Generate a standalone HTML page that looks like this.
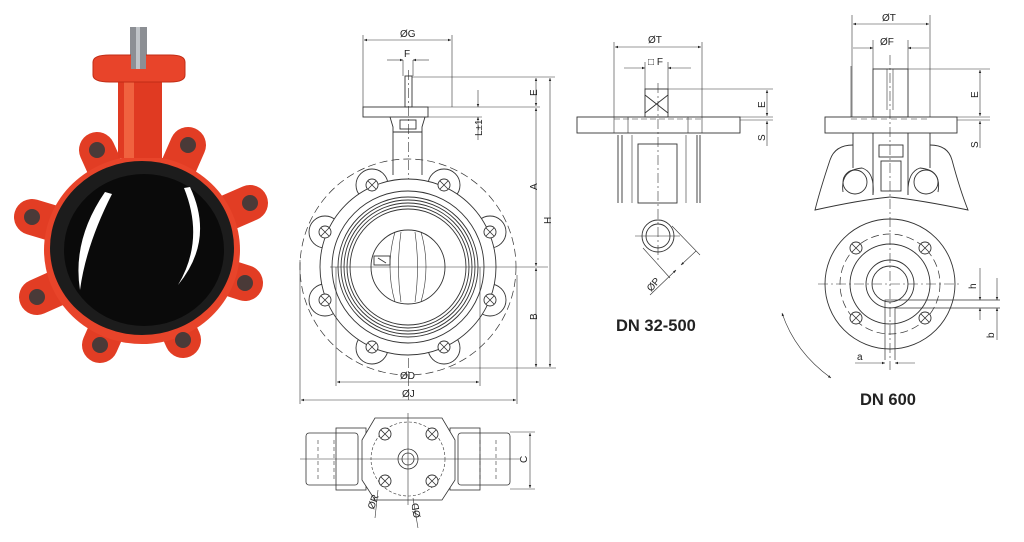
<!DOCTYPE html>
<html><head><meta charset="utf-8"><style>
html,body{margin:0;padding:0;background:#fff;}
svg{display:block;}
text{font-family:"Liberation Sans",sans-serif;fill:#222;}
</style></head><body>
<svg width="1024" height="542" viewBox="0 0 1024 542" xmlns="http://www.w3.org/2000/svg">
<defs>
<marker id="ar" viewBox="0 0 10 10" refX="10" refY="5" markerWidth="7" markerHeight="5" orient="auto-start-reverse"><path d="M0,1 L10,5 L0,9 z" fill="#222"/></marker>
<g id="bolt"><circle r="6" fill="#fff" stroke="#333" stroke-width="0.9"/><path d="M-4,-4 L4,4 M-4,4 L4,-4" stroke="#333" stroke-width="0.8"/></g>
</defs>

<!-- ========== PHOTO ========== -->
<g>
<rect x="130" y="27" width="17" height="34" fill="#8c8f94"/>
<rect x="136" y="27" width="4" height="34" fill="#b8bcc0"/>
<g stroke="#e23d24" stroke-width="36" stroke-linecap="round">
<line x1="142" y1="250" x2="97" y2="150"/><line x1="142" y1="250" x2="188" y2="145"/>
<line x1="142" y1="250" x2="32" y2="217"/><line x1="142" y1="250" x2="250" y2="203"/>
<line x1="142" y1="250" x2="37" y2="297"/><line x1="142" y1="250" x2="245" y2="283"/>
<line x1="142" y1="250" x2="100" y2="345"/><line x1="142" y1="250" x2="183" y2="340"/>
</g>
<ellipse cx="142" cy="250" rx="98" ry="94" fill="#e8442a"/>
<rect x="118" y="78" width="44" height="80" fill="#e03a22"/>
<rect x="124" y="78" width="10" height="80" fill="#f0623f"/>
<path d="M93,62 Q93,55 110,55 L170,55 Q185,55 185,62 L185,75 Q185,82 170,82 L110,82 Q93,82 93,75 Z" fill="#e8442a" stroke="#c12c15"/>
<rect x="131" y="27" width="15" height="42" fill="#8c8f94"/>
<rect x="136" y="27" width="4" height="42" fill="#c0c4c8"/>
<g fill="#4a3a38">
<circle cx="97" cy="150" r="8"/><circle cx="188" cy="145" r="8"/>
<circle cx="32" cy="217" r="8"/><circle cx="250" cy="203" r="8"/>
<circle cx="37" cy="297" r="8"/><circle cx="245" cy="283" r="8"/>
<circle cx="100" cy="345" r="8"/><circle cx="183" cy="340" r="8"/>
</g>
<ellipse cx="142" cy="248" rx="92" ry="87" fill="#1c1c1c"/>
<ellipse cx="144" cy="250" rx="80" ry="76" fill="#0a0a0a"/>
<path d="M105,192 Q72,240 80,290 Q86,245 112,194 Z" fill="#fff"/>
<path d="M190,187 Q215,240 178,285 Q205,240 184,188 Z" fill="#fff"/>
</g>

<!-- ========== MAIN FRONT VIEW ========== -->
<g fill="none" stroke="#333" stroke-width="0.9">
<rect x="363" y="107" width="65" height="10"/>
<rect x="405" y="76" width="7" height="31"/>
<line x1="408.5" y1="70" x2="408.5" y2="400" stroke-dasharray="10,3,2,3" stroke-width="0.6"/>
<path d="M390,117 L393,127 L393,175 M425,117 L422,127 L422,175"/>
<path d="M393,132 L422,132"/>
<rect x="400" y="120" width="16" height="9"/>
<circle cx="408" cy="267" r="108" stroke-dasharray="8,4" stroke-width="0.7"/>
<g stroke-width="0.9">
<circle cx="372" cy="185" r="16"/><circle cx="444" cy="185" r="16"/>
<circle cx="325" cy="232" r="16"/><circle cx="490" cy="232" r="16"/>
<circle cx="325" cy="300" r="16"/><circle cx="490" cy="300" r="16"/>
<circle cx="372" cy="348" r="16"/><circle cx="444" cy="348" r="16"/>
</g>
<circle cx="408" cy="267" r="88" fill="#fff"/>
<circle cx="408" cy="267" r="76"/>
<circle cx="408" cy="267" r="70"/>
<circle cx="408" cy="267" r="67"/>
<circle cx="408" cy="267" r="64"/>
<circle cx="408" cy="267" r="61"/>
<circle cx="408" cy="267" r="58"/>
<circle cx="408" cy="267" r="37"/>
<path d="M395,232 Q385,267 395,302 M421,232 Q431,267 421,302 M401,232 Q396,267 401,302 M415,232 Q420,267 415,302" stroke-width="0.6"/>
<rect x="374" y="256" width="16" height="9"/>
<path d="M378,258 L386,263" />
<line x1="330" y1="267" x2="548" y2="267" stroke-width="0.6"/>
</g>
<g>
<use href="#bolt" x="372" y="185"/><use href="#bolt" x="444" y="185"/>
<use href="#bolt" x="325" y="232"/><use href="#bolt" x="490" y="232"/>
<use href="#bolt" x="325" y="300"/><use href="#bolt" x="490" y="300"/>
<use href="#bolt" x="372" y="347"/><use href="#bolt" x="444" y="347"/>
</g>
<g stroke="#333" stroke-width="0.6" fill="none">
<line x1="363" y1="35" x2="363" y2="107"/><line x1="452" y1="35" x2="452" y2="107"/>
<line x1="364" y1="40" x2="451" y2="40" marker-start="url(#ar)" marker-end="url(#ar)"/>
<line x1="403" y1="60" x2="403" y2="76"/><line x1="413" y1="60" x2="413" y2="76"/>
<line x1="387" y1="60" x2="403" y2="60" marker-end="url(#ar)"/><line x1="429" y1="60" x2="413" y2="60" marker-end="url(#ar)"/>
<line x1="412" y1="77" x2="555" y2="77"/>
<line x1="428" y1="107" x2="540" y2="107"/>
<line x1="428" y1="117" x2="482" y2="117"/>
<line x1="478" y1="90" x2="478" y2="107" marker-end="url(#ar)"/>
<line x1="478" y1="140" x2="478" y2="117" marker-end="url(#ar)"/>
<line x1="536" y1="78" x2="536" y2="106" marker-start="url(#ar)" marker-end="url(#ar)"/>
<line x1="536" y1="108" x2="536" y2="266" marker-start="url(#ar)" marker-end="url(#ar)"/>
<line x1="536" y1="268" x2="536" y2="367" marker-start="url(#ar)" marker-end="url(#ar)"/>
<line x1="550" y1="78" x2="550" y2="367" marker-start="url(#ar)" marker-end="url(#ar)"/>
<line x1="450" y1="368" x2="556" y2="368"/>
<line x1="336" y1="267" x2="336" y2="386"/><line x1="480" y1="267" x2="480" y2="386"/>
<line x1="337" y1="382" x2="479" y2="382" marker-start="url(#ar)" marker-end="url(#ar)"/>
<line x1="300" y1="260" x2="300" y2="404"/><line x1="517" y1="275" x2="517" y2="404"/>
<line x1="301" y1="400" x2="516" y2="400" marker-start="url(#ar)" marker-end="url(#ar)"/>
</g>
<g font-size="10">
<text x="400" y="37">ØG</text>
<text x="404" y="57">F</text>
<text x="530" y="97" transform="rotate(-90 533 93)">E</text>
<text x="472" y="136" transform="rotate(-90 477 131)">L±1</text>
<text x="531" y="192" transform="rotate(-90 533 188)">A</text>
<text x="545" y="226" transform="rotate(-90 547 222)">H</text>
<text x="531" y="322" transform="rotate(-90 533 318)">B</text>
<text x="400" y="379">ØD</text>
<text x="402" y="397">ØJ</text>
</g>

<!-- ========== BOTTOM VIEW ========== -->
<g fill="none" stroke="#333" stroke-width="0.8">
<rect x="306" y="433" width="52" height="52" rx="3"/>
<rect x="458" y="433" width="52" height="52" rx="3"/>
<rect x="336" y="428" width="30" height="62"/><rect x="450" y="428" width="30" height="62"/>
<path d="M318,440 L318,480 M334,440 L334,480 M480,440 L480,480 M496,440 L496,480" stroke-dasharray="4,3" stroke-width="0.6"/>
<path d="M375,418 L442,418 L455,440 L455,480 L442,500 L375,500 L362,480 L362,440 Z" fill="#fff"/>
<circle cx="408" cy="459" r="37" stroke-dasharray="3,2" stroke-width="0.6"/>
<circle cx="408" cy="459" r="10"/><circle cx="408" cy="459" r="6"/>
<line x1="300" y1="459" x2="520" y2="459" stroke-width="0.6"/>
<line x1="408" y1="413" x2="408" y2="505" stroke-width="0.6"/>
<line x1="510" y1="432" x2="535" y2="432" stroke-width="0.6"/><line x1="510" y1="489" x2="535" y2="489" stroke-width="0.6"/>
<line x1="530" y1="433" x2="530" y2="488" stroke-width="0.6" marker-start="url(#ar)" marker-end="url(#ar)"/>
<line x1="378" y1="490" x2="375" y2="518" stroke-width="0.6"/>
<line x1="413" y1="498" x2="418" y2="528" stroke-width="0.6"/>
</g>
<use href="#bolt" x="385" y="434"/><use href="#bolt" x="432" y="434"/>
<use href="#bolt" x="385" y="481"/><use href="#bolt" x="432" y="481"/>
<g font-size="10">
<text x="520" y="462" transform="rotate(-90 524 459)">C</text>
<text x="366" y="507" transform="rotate(-70 372 503)">ØR</text>
<text x="412" y="518" transform="rotate(-100 416 514)">ØD</text>
</g>

<!-- ========== DN 32-500 ========== -->
<g fill="none" stroke="#333" stroke-width="0.9">
<rect x="577" y="117" width="163" height="16"/>
<path d="M614,117 L614,133 M628,117 L628,133 M688,117 L688,133 M702,117 L702,133" stroke-width="0.6"/>
<line x1="614" y1="119" x2="702" y2="119" stroke-dasharray="6,3" stroke-width="0.6"/>
<rect x="645" y="89" width="23" height="28"/>
<path d="M645,95 L668,113 M668,95 L645,113"/>
<path d="M618,135 L618,203 M622,135 L622,203 M697,135 L697,203 M700,135 L700,203"/>
<path d="M632,135 L632,203 M686,135 L686,203" stroke-width="0.6"/>
<rect x="638" y="144" width="39" height="59"/>
<circle cx="658" cy="236" r="16"/><circle cx="658" cy="236" r="12"/>
<line x1="658" y1="83" x2="658" y2="260" stroke-width="0.6" stroke-dasharray="10,3,2,3"/>
<line x1="635" y1="236" x2="680" y2="236" stroke-width="0.6"/>
</g>
<g stroke="#333" stroke-width="0.6" fill="none">
<line x1="614" y1="42" x2="614" y2="117"/><line x1="702" y1="42" x2="702" y2="117"/>
<line x1="615" y1="47" x2="701" y2="47" marker-start="url(#ar)" marker-end="url(#ar)"/>
<line x1="645" y1="62" x2="645" y2="89"/><line x1="668" y1="62" x2="668" y2="89"/>
<line x1="624" y1="68" x2="645" y2="68" marker-end="url(#ar)"/><line x1="691" y1="68" x2="668" y2="68" marker-end="url(#ar)"/>
<line x1="668" y1="89" x2="773" y2="89"/>
<line x1="740" y1="117" x2="773" y2="117"/><line x1="740" y1="120" x2="773" y2="120"/>
<line x1="767" y1="90" x2="767" y2="116" marker-start="url(#ar)" marker-end="url(#ar)"/>
<line x1="767" y1="146" x2="767" y2="121" marker-end="url(#ar)"/>
<line x1="672" y1="226" x2="700" y2="255"/>
<line x1="643" y1="248" x2="670" y2="278"/>
<line x1="696" y1="251" x2="681" y2="265" marker-end="url(#ar)"/>
<line x1="650" y1="295" x2="676" y2="270" marker-end="url(#ar)"/>
</g>
<g font-size="10">
<text x="648" y="43">ØT</text>
<text x="648" y="65">□ F</text>
<text x="755" y="106" transform="rotate(-90 761 102)">E</text>
<text x="755" y="139" transform="rotate(-90 761 135)">S</text>
<text x="646" y="289" transform="rotate(-50 652 285)">ØP</text>
</g>
<text x="616" y="331" font-size="16.5" font-weight="bold">DN 32-500</text>

<!-- ========== DN 600 ========== -->
<g fill="none" stroke="#333" stroke-width="0.9">
<rect x="825" y="117" width="132" height="16"/>
<path d="M851,117 L851,66 M930,117 L930,66" stroke-width="0.6"/>
<rect x="873" y="69" width="35" height="48"/>
<path d="M887,69 L887,110 M893,69 L893,110" stroke-width="0.6"/>
<line x1="851" y1="119" x2="930" y2="119" stroke-dasharray="6,4" stroke-width="0.6"/>
<path d="M853,133 L853,168 M873,133 L873,195 M908,133 L908,195 M930,133 L930,168"/>
<path d="M853,145 Q835,145 830,160 Q820,190 815,210 Q860,200 890,197 Q920,200 968,210 Q960,190 952,160 Q948,145 930,145"/>
<circle cx="855" cy="182" r="12"/><circle cx="926" cy="182" r="12"/>
<path d="M843,192 Q840,170 862,168 Q875,172 873,195 M938,192 Q942,170 920,168 Q907,172 908,195"/>
<rect x="879" y="145" width="24" height="12"/>
<rect x="881" y="161" width="20" height="30"/>
<line x1="890" y1="55" x2="890" y2="370" stroke-width="0.6" stroke-dasharray="10,3,2,3"/>
<circle cx="890" cy="284" r="65"/>
<circle cx="890" cy="284" r="50" stroke-dasharray="8,4" stroke-width="0.7"/>
<circle cx="890" cy="284" r="40"/>
<circle cx="890" cy="284" r="24"/>
<circle cx="890" cy="284" r="18"/>
<line x1="818" y1="284" x2="960" y2="284" stroke-width="0.6" stroke-dasharray="10,3,2,3"/>
<path d="M885,360 L885,300 L1000,300 M895,360 L895,308 L1000,308" stroke-width="0.7"/>
</g>
<use href="#bolt" x="856" y="248"/><use href="#bolt" x="925" y="248"/>
<use href="#bolt" x="856" y="318"/><use href="#bolt" x="925" y="318"/>
<g stroke="#333" stroke-width="0.6" fill="none">
<line x1="852" y1="15" x2="852" y2="117"/><line x1="930" y1="15" x2="930" y2="66"/>
<line x1="853" y1="24" x2="929" y2="24" marker-start="url(#ar)" marker-end="url(#ar)"/>
<line x1="873" y1="40" x2="873" y2="69"/><line x1="908" y1="40" x2="908" y2="69"/>
<line x1="853" y1="48" x2="873" y2="48" marker-end="url(#ar)"/><line x1="929" y1="48" x2="908" y2="48" marker-end="url(#ar)"/>
<line x1="908" y1="69" x2="990" y2="69"/>
<line x1="957" y1="117" x2="990" y2="117"/><line x1="957" y1="120" x2="990" y2="120"/>
<line x1="980" y1="70" x2="980" y2="116" marker-start="url(#ar)" marker-end="url(#ar)"/>
<line x1="980" y1="148" x2="980" y2="121" marker-end="url(#ar)"/>
<line x1="980" y1="268" x2="980" y2="300" marker-end="url(#ar)"/>
<line x1="980" y1="320" x2="980" y2="308" marker-end="url(#ar)"/>
<line x1="997" y1="278" x2="997" y2="300" marker-end="url(#ar)"/>
<line x1="997" y1="340" x2="997" y2="308" marker-end="url(#ar)"/>
<line x1="855" y1="363" x2="885" y2="363" marker-end="url(#ar)"/>
<line x1="915" y1="363" x2="895" y2="363" marker-end="url(#ar)"/>
<path d="M782,313 Q795,352 831,378" marker-start="url(#ar)" marker-end="url(#ar)"/>
</g>
<g font-size="10">
<text x="882" y="21">ØT</text>
<text x="880" y="45">ØF</text>
<text x="968" y="96" transform="rotate(-90 974 92)">E</text>
<text x="968" y="146" transform="rotate(-90 974 142)">S</text>
<text x="966" y="287" transform="rotate(-90 972 283)">h</text>
<text x="984" y="336" transform="rotate(-90 990 332)">b</text>
<text x="857" y="360">a</text>
</g>
<text x="860" y="405" font-size="16.5" font-weight="bold">DN 600</text>
</svg>
</body></html>
